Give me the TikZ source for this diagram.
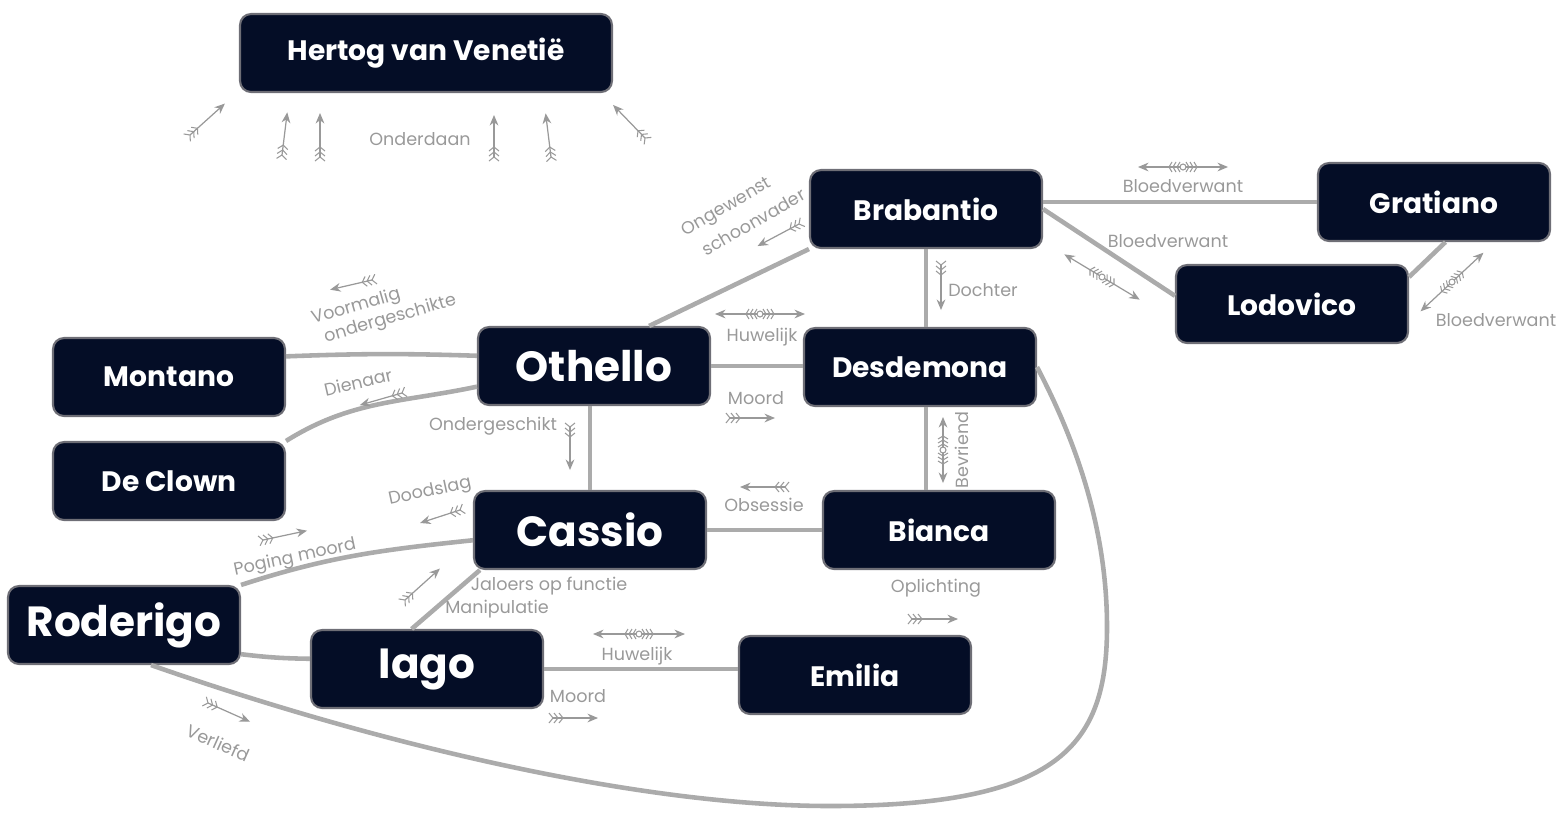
\documentclass[tikz,border=0pt]{standalone}
\usepackage{fontspec}
\setmainfont{Poppins}
\usetikzlibrary{arrows.meta}
\definecolor{boxnavy}{HTML}{040D26}
\definecolor{boxedge}{HTML}{6E6E76}
\definecolor{linkgray}{HTML}{ABABAB}
\definecolor{labelgray}{HTML}{999999}
\tikzset{
  glyph/.style={draw=labelgray, line width=0.7pt},
  feather/.style={draw=labelgray, line width=0.6pt},
  pics/fletch/.style={code={
    \draw[glyph, -{Stealth[length=6pt,width=5pt]}] (0,0) -- (#1,0);
    \draw[feather] (-4,-5) -- (0,0) -- (-4,5);
    \draw[feather] (1,-5) -- (5,0) -- (1,5);
    \draw[feather] (6,-5) -- (10,0) -- (6,5);
  }},
  pics/bond/.style={code={
    \draw[glyph, {Stealth[length=6pt,width=5pt]}-{Stealth[length=6pt,width=5pt]}] (-#1,0) -- (#1,0);
    \draw[feather, fill=white] (0,0) circle (3);
    \draw[feather] (-3,-5) -- (-6,0) -- (-3,5);
    \draw[feather] (-7,-5) -- (-10,0) -- (-7,5);
    \draw[feather] (-11,-5) -- (-14,0) -- (-11,5);
    \draw[feather] (3,-5) -- (6,0) -- (3,5);
    \draw[feather] (7,-5) -- (10,0) -- (7,5);
    \draw[feather] (11,-5) -- (14,0) -- (11,5);
  }}
}
\begin{document}
\begin{tikzpicture}[x=0.02cm, y=-0.02cm,
  person/.style={draw=boxedge, line width=1.2pt, fill=boxnavy, rounded corners=0.22cm,
    minimum width=4.64cm, minimum height=1.56cm, inner sep=0pt, text=white,
    font=\fontsize{16}{19}\selectfont\bfseries},
  leadperson/.style={person, font=\fontsize{24}{28}\selectfont\bfseries},
  link/.style={draw=linkgray, line width=2.6pt},
  lab/.style={text=labelgray, inner sep=0pt, font=\fontsize{10}{12}\selectfont}]
	\useasboundingbox (0,0) rectangle (1558,816);

	\node[person, minimum width=7.44cm] (her) at (426,53) {Hertog van Venetië};
	\node[person] (bra) at (926,209) {Brabantio};
	\node[person] (gra) at (1434,202) {Gratiano};
	\node[person] (lod) at (1292,304) {Lodovico};
	\node[leadperson] (oth) at (594,366) {Othello};
	\node[person] (des) at (920,367) {Desdemona};
	\node[person] (mon) at (169,377) {Montano};
	\node[person] (clo) at (169,481) {De Clown};
	\node[leadperson] (cas) at (590,530) {Cassio};
	\node[person] (bia) at (939,530) {Bianca};
	\node[leadperson] (rod) at (124,625) {Roderigo};
	\node[leadperson] (iag) at (427,669) {Iago};
	\node[person] (emi) at (855,675) {Emilia};

	\draw[link] (bra.east |- gra.west) -- (gra.west);
	\draw[link] (bra.east) -- (lod.176);
	\draw[link] (gra.-74) -- (lod.13);
	\draw[link] (bra.south west) -- (oth.36);
	\draw[link] (bra.south) -- (bra.south |- des.north);
	\draw[link] (des.south -| bra.south) -- (bra.south |- bia.north);
	\draw[link] (oth.east) -- (des.west |- oth.east);
	\draw[link] (mon.10) to[bend left=2] (oth.175);
	\draw[link] (clo.north east) to[out=32, in=192] (oth.190);
	\draw[link] (cas.north) -- (cas.north |- oth.south);
	\draw[link] (cas.east) -- (bia.west);
	\draw[link] (rod.north east) to[out=18, in=186] (cas.185);
	\draw[link] (cas.200) -- (iag.111);
	\draw[link] (rod.-14) to[bend right=3] (iag.175);
	\draw[link] (iag.east) -- (iag.east -| emi.west);
	\coordinate (lowpt) at (830,806);
	\coordinate (farpt) at (1107,627);
	\draw[link] (rod.-56) .. controls (380,745) and (640,806) .. (lowpt)
		.. controls (1060,806) and (1107,745) .. (farpt)
		.. controls (1107,520) and (1070,430) .. (des.east);

	\pic[rotate=42] at (190,135) {fletch=47};
	\pic[rotate=83] at (282,155) {fletch=43};
	\pic[rotate=90] at (320,157) {fletch=44};
	\pic[rotate=90] at (494,157) {fletch=42};
	\pic[rotate=97] at (551,157) {fletch=44};
	\pic[rotate=134] at (645,138) {fletch=46};
	\node[lab] (ondl) at (420,139) {Onderdaan};

	\node[lab, rotate=30, align=center] (ongl) at (733,218) {Ongewenst\\[4pt]\hspace*{1.8em}schoonvader};
	\pic[rotate=208] at (799,224) {fletch=47};

	\pic at (1183,167) {bond=45};
	\node[lab] (blo1) at (1183,186) {Bloedverwant};
	\pic[rotate=-31] at (1102,277) {bond=44};
	\node[lab] (blo2) at (1168,241) {Bloedverwant};
	\pic[rotate=43] at (1452,282) {bond=43};
	\node[lab] (blo3) at (1496,320) {Bloedverwant};

	\pic[rotate=-90] at (941,265) {fletch=45};
	\node[lab] (doc) at (983,290) {Dochter};

	\pic at (760,314) {bond=45};
	\node[lab] (huw1) at (762,337) {Huwelijk};
	\node[lab] (moo1) at (756,398) {Moord};
	\pic at (730,418) {fletch=45};
	\pic[rotate=90] at (943,450) {bond=33};
	\node[lab, rotate=90] (bev) at (962,450) {Bevriend};

	\pic[rotate=193] at (372,280) {fletch=43};
	\node[lab, rotate=16, align=left] (voo) at (384,310) {Voormalig\\\hspace*{0.4em}ondergeschikte};
	\node[lab, rotate=13] (die) at (358,382) {Dienaar};
	\pic[rotate=196] at (402,393) {fletch=44};

	\node[lab] (ond) at (493,426) {Ondergeschikt};
	\pic[rotate=-90] at (570,427) {fletch=43};

	\node[lab, rotate=12] (doo) at (430,492) {Doodslag};
	\pic[rotate=198] at (460,510) {fletch=42};
	\pic[rotate=12] at (263,540) {fletch=45};
	\node[lab, rotate=12] (pog) at (295,558) {Poging moord};
	\pic[rotate=42] at (405,600) {fletch=47};
	\node[lab] (jal) at (549,586) {Jaloers op functie};
	\node[lab] (man) at (497,609) {Manipulatie};

	\pic[rotate=180] at (785,487) {fletch=45};
	\node[lab] (obs) at (764,505) {Obsessie};
	\node[lab] (opl) at (936,588) {Oplichting};
	\pic at (912,619) {fletch=46};

	\pic at (639,634) {bond=46};
	\node[lab] (huw2) at (637,656) {Huwelijk};
	\node[lab] (moo2) at (578,696) {Moord};
	\pic at (553,718) {fletch=45};

	\pic[rotate=-24] at (208,703) {fletch=46};
	\node[lab, rotate=-24] (ver) at (218,743) {Verliefd};
\end{tikzpicture}
\end{document}
